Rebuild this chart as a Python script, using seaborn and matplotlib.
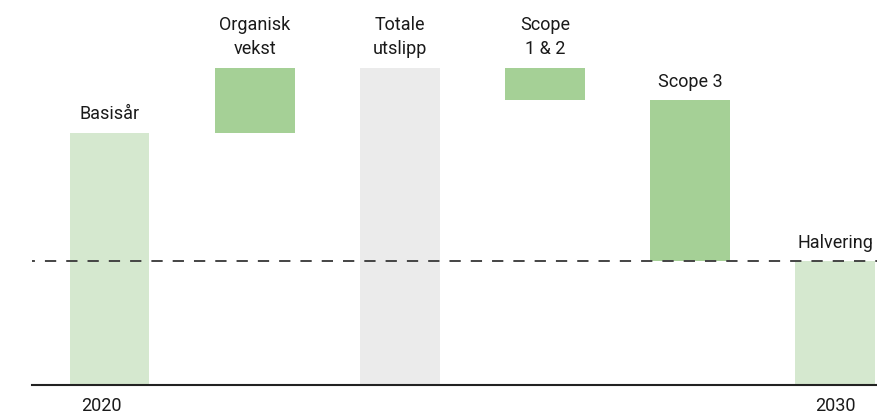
import matplotlib
matplotlib.use("Agg")
import matplotlib.pyplot as plt
import matplotlib.transforms as mtransforms
import seaborn as sns
import numpy as np

# Data
categories = ["Basisår", "Organisk\nvekst", "Totale\nutslipp", "Scope\n1 & 2", "Scope 3", "Halvering"]
changes = [100, 26, 126, -13, -64, 49]          # value of each step
kinds = ["total", "delta", "total", "delta", "delta", "total"]
tick_labels = ["2020", "", "", "", "", "2030"]
target_level = 49

# Compute bar spans for the waterfall
bottoms, heights, tops = [], [], []
running = 0
for v, k in zip(changes, kinds):
    if k == "total":
        bottoms.append(0); heights.append(v); running = v
    else:
        new = running + v
        bottoms.append(min(running, new)); heights.append(abs(v)); running = new
    tops.append(bottoms[-1] + heights[-1])

colors = ["#d5e8cf", "#a5d096", "#ebebeb", "#a5d096", "#a5d096", "#d5e8cf"]

sns.set_theme(style="white")
plt.rcParams["font.family"] = ["Roboto", "DejaVu Sans"]

fig = plt.figure(figsize=(8.78, 4.16), dpi=100)
ax = fig.add_axes([32 / 878, 31.5 / 416, 846 / 878, 384.5 / 416])

sns.barplot(x=list(range(len(categories))), y=heights, bottom=np.array(bottoms),
            width=0.55, ax=ax, native_scale=True, linewidth=0,
            color="#a5d096", saturation=1, errorbar=None)
for p, c in zip(ax.patches, colors):
    p.set_facecolor(c)
    p.set_edgecolor("none")

ax.axhline(target_level, color="#444444", lw=1.4, ls=(4.3, (5.8, 5.15)), zorder=5)

for i, (lab, t) in enumerate(zip(categories, tops)):
    ax.annotate(lab, (i, t), xytext=(0, 7), textcoords="offset points",
                ha="center", va="bottom", fontsize=13, color="#1a1a1a",
                linespacing=1.45)

ax.set_xlim(-0.534, 5.296)
ax.set_ylim(0, 152.9)
ax.set_xticks(range(len(categories)))
ax.set_xticklabels(tick_labels, fontsize=13, color="#1a1a1a")
ax.tick_params(axis="x", length=0, pad=9)
ax.set_yticks([])
ax.set_xlabel(""); ax.set_ylabel("")
for s in ["top", "left", "right"]:
    ax.spines[s].set_visible(False)
ax.spines["bottom"].set_color("#222222")
ax.spines["bottom"].set_linewidth(1.5)

# first year label sits slightly left of its bar in the reference
lbl = ax.get_xticklabels()[0]
lbl.set_transform(lbl.get_transform() + mtransforms.ScaledTranslation(-8 / 100, 0, fig.dpi_scale_trans))

fig.savefig("out.png", dpi=100)
